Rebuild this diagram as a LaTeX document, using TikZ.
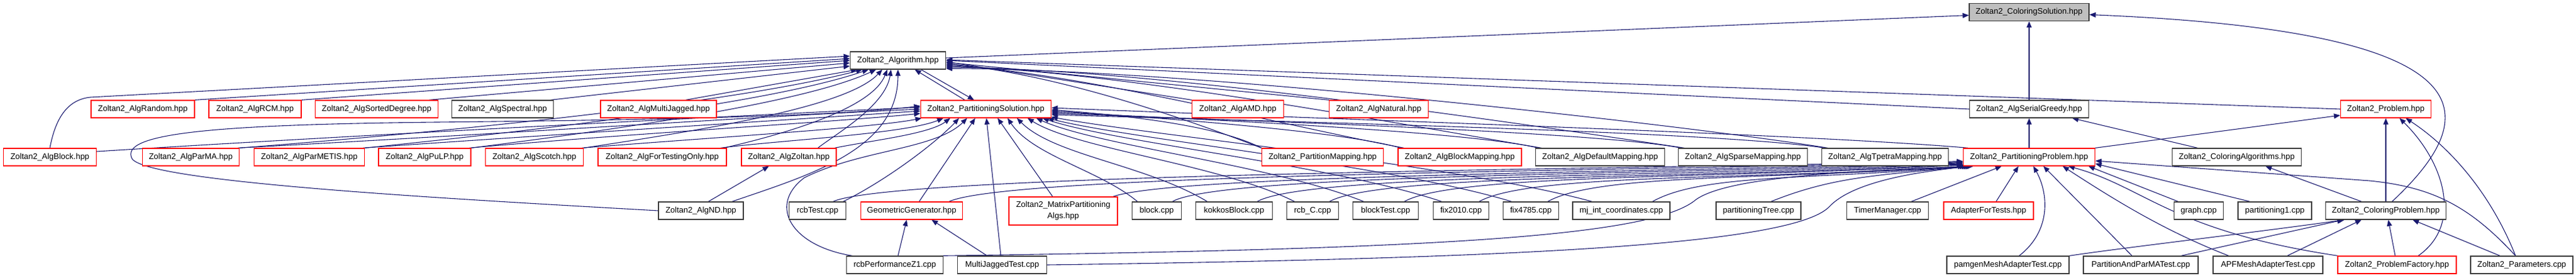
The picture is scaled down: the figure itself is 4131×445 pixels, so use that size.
\documentclass[tikz,border=0pt]{standalone}
\usepackage{fontspec}
\setmainfont{Liberation Sans}
\usetikzlibrary{arrows.meta}
\pgfdeclarelayer{background}
\pgfsetlayers{background,main}
\definecolor{edgeblue}{RGB}{25,25,112}
\definecolor{boxgray}{RGB}{60,60,60}
\definecolor{boxred}{RGB}{255,0,0}
\definecolor{fillgray}{RGB}{191,191,191}
\tikzset{
  nb/.style={draw=boxgray, line width=1.3pt, fill=white, minimum height=28pt, inner sep=0pt, font=\fontsize{13}{15}\selectfont, text=black},
  nr/.style={nb, draw=boxred},
  e/.style={draw=edgeblue, line width=1.1pt, -{Triangle[length=10pt,width=8pt]}},
}
\begin{document}
\begin{tikzpicture}[x=1pt,y=-1pt]
\useasboundingbox (0,0) rectangle (4131,445);
% row 0
\node[nb, fill=fillgray, minimum width=192pt] (cs) at (3254,19.5) {Zoltan2\_ColoringSolution.hpp};
% row 1
\node[nb, minimum width=153pt] (alg) at (1440,97) {Zoltan2\_Algorithm.hpp};
% row 2
\node[nr, minimum width=166pt] (rnd) at (229,175) {Zoltan2\_AlgRandom.hpp};
\node[nr, minimum width=148pt] (rcm) at (409,175) {Zoltan2\_AlgRCM.hpp};
\node[nr, minimum width=197pt] (sdeg) at (604,175) {Zoltan2\_AlgSortedDegree.hpp};
\node[nb, minimum width=163pt] (spec) at (806,175) {Zoltan2\_AlgSpectral.hpp};
\node[nr, minimum width=186pt] (mj) at (1056,175) {Zoltan2\_AlgMultiJagged.hpp};
\node[nr, minimum width=209pt] (ps) at (1581,175) {Zoltan2\_PartitioningSolution.hpp};
\node[nr, minimum width=147pt] (amd) at (1985,175) {Zoltan2\_AlgAMD.hpp};
\node[nr, minimum width=159pt] (nat) at (2211,175) {Zoltan2\_AlgNatural.hpp};
\node[nb, minimum width=191pt] (sg) at (3254,175) {Zoltan2\_AlgSerialGreedy.hpp};
\node[nr, minimum width=145pt] (prob) at (3826,175) {Zoltan2\_Problem.hpp};
% row 3
\node[nr, minimum width=149pt] (blk) at (80,252) {Zoltan2\_AlgBlock.hpp};
\node[nr, minimum width=155pt] (parma) at (306,252) {Zoltan2\_AlgParMA.hpp};
\node[nr, minimum width=177pt] (parmetis) at (496,252) {Zoltan2\_AlgParMETIS.hpp};
\node[nr, minimum width=148pt] (pulp) at (681,252) {Zoltan2\_AlgPuLP.hpp};
\node[nr, minimum width=157pt] (scotch) at (857,252) {Zoltan2\_AlgScotch.hpp};
\node[nr, minimum width=206pt] (fto) at (1062,252) {Zoltan2\_AlgForTestingOnly.hpp};
\node[nr, minimum width=152pt] (zol) at (1265,252) {Zoltan2\_AlgZoltan.hpp};
\node[nr, minimum width=195pt] (pmap) at (2121,252) {Zoltan2\_PartitionMapping.hpp};
\node[nr, minimum width=198pt] (bmap) at (2341,252) {Zoltan2\_AlgBlockMapping.hpp};
\node[nb, minimum width=207pt] (dmap) at (2566,252) {Zoltan2\_AlgDefaultMapping.hpp};
\node[nb, minimum width=207pt] (smap) at (2795,252) {Zoltan2\_AlgSparseMapping.hpp};
\node[nb, minimum width=203pt] (tmap) at (3023,252) {Zoltan2\_AlgTpetraMapping.hpp};
\node[nr, minimum width=211pt] (pp) at (3254,252) {Zoltan2\_PartitioningProblem.hpp};
\node[nb, minimum width=207pt] (calg) at (3587,252) {Zoltan2\_ColoringAlgorithms.hpp};
% row 4
\node[nb, minimum width=136pt] (nd) at (1124,338) {Zoltan2\_AlgND.hpp};
\node[nb, minimum width=91pt] (rcbt) at (1311,338) {rcbTest.cpp};
\node[nr, minimum width=163pt] (geo) at (1462,338) {GeometricGenerator.hpp};
\node[nr, minimum width=174pt, minimum height=45pt, align=center, font=\fontsize{13}{18}\selectfont] (mpa) at (1705,338.5) {Zoltan2\_MatrixPartitioning\\Algs.hpp};
\node[nb, minimum width=79pt] (blockc) at (1855,338) {block.cpp};
\node[nb, minimum width=123pt] (kokkos) at (1979,338) {kokkosBlock.cpp};
\node[nb, minimum width=83pt] (rcbc) at (2105,338) {rcb\_C.cpp};
\node[nb, minimum width=105pt] (blockt) at (2222,338) {blockTest.cpp};
\node[nb, minimum width=89pt] (fix2010) at (2343,338) {fix2010.cpp};
\node[nb, minimum width=89pt] (fix4785) at (2455,338) {fix4785.cpp};
\node[nb, minimum width=156pt] (mjint) at (2600,338) {mj\_int\_coordinates.cpp};
\node[nb, minimum width=136pt] (ptree) at (2820,338) {partitioningTree.cpp};
\node[nb, minimum width=131pt] (timer) at (3027,338) {TimerManager.cpp};
\node[nr, minimum width=144pt] (aft) at (3189,338) {AdapterForTests.hpp};
\node[nb, minimum width=79pt] (graph) at (3526,338) {graph.cpp};
\node[nb, minimum width=118pt] (part1) at (3648,338) {partitioning1.cpp};
\node[nb, minimum width=193pt] (cp) at (3826,338) {Zoltan2\_ColoringProblem.hpp};
% row 5
\node[nb, minimum width=155pt] (rcbperf) at (1435,425) {rcbPerformanceZ1.cpp};
\node[nb, minimum width=143pt] (mjt) at (1607,425) {MultiJaggedTest.cpp};
\node[nb, minimum width=196pt] (pamgen) at (3220,425) {pamgenMeshAdapterTest.cpp};
\node[nb, minimum width=184pt] (papm) at (3433,425) {PartitionAndParMATest.cpp};
\node[nb, minimum width=176pt] (apf) at (3637,425) {APFMeshAdapterTest.cpp};
\node[nr, minimum width=190pt] (pf) at (3844,425) {Zoltan2\_ProblemFactory.hpp};
\node[nb, minimum width=164pt] (params) at (4044,425) {Zoltan2\_Parameters.cpp};

\begin{pgfonlayer}{background}
\fill[white] (0,0) rectangle (4131,445);
% into ColoringSolution
\draw[e] ([yshift=4pt]alg.east) -- ([yshift=-5pt]cs.west);
\draw[e] (sg.north) -- (cs.south);
\draw[e] ([xshift=10pt]cp.north) .. controls (3990,180) and (3990,50) .. ([yshift=-4pt]cs.east);
% into Algorithm, left and bottom
\draw[e] (blk.north) .. controls (88,195) and (105,160) .. (145,156) -- ([yshift=7pt]alg.west);
\draw[e] (rnd.north east) -- ([yshift=3pt]alg.west);
\draw[e] (rcm.north east) -- (alg.west);
\draw[e] ([xshift=-15pt]sdeg.north east) -- ([yshift=-4pt]alg.west);
\draw[e] ([xshift=-5pt]spec.north east) -- ([yshift=-9pt]alg.west);
\draw[e] ([xshift=-50pt]mj.north east) -- ([xshift=12pt]alg.south west);
\draw[e] (parma.north east) .. controls (800,205) and (1200,160) .. ([xshift=20pt]alg.south west);
\draw[e] (parmetis.north east) .. controls (950,200) and (1250,160) .. ([xshift=30pt]alg.south west);
\draw[e] (pulp.north east) .. controls (1050,200) and (1300,160) .. ([xshift=42pt]alg.south west);
\draw[e] (scotch.north east) .. controls (1150,205) and (1360,170) .. ([xshift=52pt]alg.south west);
\draw[e] ([xshift=-5pt]fto.north east) .. controls (1280,210) and (1400,170) .. ([xshift=60pt]alg.south west);
\draw[e] ([xshift=-30pt]zol.north east) .. controls (1340,215) and (1420,170) .. ([xshift=66pt]alg.south west);
\draw[e] ([xshift=50pt]nd.north) .. controls (1300,280) and (1440,240) .. (alg.south);
% Algorithm <-> PartitioningSolution
\draw[e] ([xshift=-34pt]ps.north) -- ([xshift=27pt]alg.south);
\draw[e] ([xshift=37pt]alg.south) -- ([xshift=-19pt]ps.north);
% into Algorithm, right
\draw[e] (amd.north west) -- ([yshift=-2pt]alg.east);
\draw[e] (nat.north west) -- ([yshift=-3pt]alg.east);
\draw[e] (sg.west) -- (alg.east);
\draw[e] (prob.west) -- ([yshift=1pt]alg.east);
\draw[e] (pmap.north west) .. controls (1900,190) and (1700,120) .. ([yshift=-5pt]alg.east);
\draw[e] ([xshift=10pt]bmap.north west) .. controls (2050,200) and (1750,120) .. ([yshift=-7pt]alg.east);
\draw[e] ([xshift=10pt]dmap.north west) .. controls (2250,200) and (1800,115) .. ([yshift=-9pt]alg.east);
\draw[e] ([xshift=10pt]smap.north west) .. controls (2450,200) and (1850,110) .. ([yshift=-11pt]alg.east);
\draw[e] ([xshift=10pt]tmap.north west) .. controls (2700,200) and (1900,110) .. ([yshift=-13pt]alg.east);
% into PartitioningSolution, left
\draw[e] ([yshift=9pt]blk.east) .. controls (600,215) and (1200,185) .. ([yshift=3pt]ps.west);
\draw[e] ([xshift=-3pt]parma.north east) .. controls (800,215) and (1250,185) .. (ps.west);
\draw[e] ([xshift=-3pt]parmetis.north east) .. controls (900,215) and (1300,190) .. ([yshift=-3pt]ps.west);
\draw[e] ([xshift=-3pt]pulp.north east) .. controls (1000,215) and (1350,195) .. ([yshift=-7pt]ps.west);
\draw[e] ([xshift=-3pt]scotch.north east) .. controls (1150,220) and (1400,205) .. ([xshift=2pt]ps.south west);
\draw[e] ([xshift=-10pt]fto.north east) .. controls (1250,225) and (1450,215) .. ([xshift=37pt]ps.south west);
\draw[e] ([xshift=-3pt]zol.north east) .. controls (1400,225) and (1490,215) .. ([xshift=48pt]ps.south west);
\draw[e] (nd.west) .. controls (700,318) and (240,292) .. (212,255) .. controls (190,215) and (330,200) .. (700,196) .. controls (1100,192) and (1350,185) .. ([yshift=5pt]ps.west);
\draw[e] ([xshift=12pt]nd.north) -- ([xshift=-32pt]zol.south);
% into PartitioningSolution, bottom
\draw[e] ([xshift=-5pt]rcbt.north east) .. controls (1420,290) and (1500,230) .. ([xshift=62pt]ps.south west);
\draw[e] ([xshift=10pt]rcbperf.north west) .. controls (1270,395) and (1230,330) .. (1290,285) .. controls (1380,240) and (1500,240) .. ([xshift=75pt]ps.south west);
\draw[e] ([xshift=12pt]geo.north) -- ([xshift=88pt]ps.south west);
\draw[e] ([xshift=-2pt]mjt.north) -- ([xshift=106pt]ps.south west);
\draw[e] ([xshift=-17pt]mpa.north) -- ([xshift=124pt]ps.south west);
\draw[e] ([xshift=-31pt]blockc.north) .. controls +(-60,-50) and +(40,60) .. ([xshift=140pt]ps.south west);
\draw[e] ([xshift=-43pt]kokkos.north) .. controls +(-100,-60) and +(60,60) .. ([xshift=155pt]ps.south west);
\draw[e] ([xshift=-29pt]rcbc.north) .. controls +(-120,-60) and +(80,50) .. ([xshift=172pt]ps.south west);
\draw[e] ([xshift=-35pt]blockt.north) .. controls +(-150,-60) and +(100,45) .. ([xshift=186pt]ps.south west);
\draw[e] ([xshift=-31pt]fix2010.north) .. controls +(-180,-60) and +(120,40) .. ([xshift=196pt]ps.south west);
\draw[e] ([xshift=-31pt]fix4785.north) .. controls +(-200,-60) and +(140,35) .. ([xshift=204pt]ps.south west);
\draw[e] ([xshift=-47pt]mjint.north) .. controls +(-220,-60) and +(160,30) .. ([yshift=2pt]ps.south east);
% into PartitioningSolution, right
\draw[e] (pmap.north west) .. controls (1950,200) and (1800,185) .. ([yshift=-1pt]ps.east);
\draw[e] ([xshift=5pt]bmap.north west) .. controls (2150,210) and (1850,188) .. ([yshift=-3pt]ps.east);
\draw[e] ([xshift=5pt]dmap.north west) .. controls (2350,210) and (1900,190) .. ([yshift=-5pt]ps.east);
\draw[e] ([xshift=5pt]smap.north west) .. controls (2550,210) and (1950,192) .. ([yshift=-7pt]ps.east);
\draw[e] ([xshift=5pt]tmap.north west) .. controls (2750,210) and (2000,194) .. ([yshift=-9pt]ps.east);
\draw[e] ([xshift=8pt]pp.north west) .. controls (2900,215) and (2100,190) .. ([yshift=2pt]ps.east);
% into PartitioningProblem from the left
\draw[e] ([xshift=25pt]rcbt.north) .. controls +(100,-45) and +(-500,12) .. ([yshift=8pt]pp.south west);
\draw[e] ([xshift=60pt]geo.north) .. controls +(100,-45) and +(-500,14) .. ([yshift=7pt]pp.south west);
\draw[e] ([xshift=80pt]mpa.north) .. controls +(100,-35) and +(-500,16) .. ([yshift=6pt]pp.south west);
\draw[e] ([xshift=25pt]blockc.north) .. controls +(80,-45) and +(-450,18) .. ([yshift=5pt]pp.south west);
\draw[e] ([xshift=37pt]kokkos.north) .. controls +(80,-45) and +(-420,20) .. ([yshift=4pt]pp.south west);
\draw[e] ([xshift=27pt]rcbc.north) .. controls +(80,-45) and +(-400,22) .. ([yshift=3pt]pp.south west);
\draw[e] ([xshift=30pt]blockt.north) .. controls +(80,-45) and +(-380,22) .. ([yshift=2pt]pp.south west);
\draw[e] ([xshift=29pt]fix2010.north) .. controls +(80,-45) and +(-350,22) .. ([xshift=2pt]pp.south west);
\draw[e] ([xshift=27pt]fix4785.north) .. controls +(80,-45) and +(-320,22) .. ([xshift=5pt]pp.south west);
\draw[e] ([xshift=50pt]mjint.north) .. controls +(80,-45) and +(-250,22) .. ([xshift=8pt]pp.south west);
\draw[e] ([xshift=20pt]ptree.north) .. controls +(100,-40) and +(-150,15) .. ([xshift=11pt]pp.south west);
\draw[e] (mjt.east) .. controls (2400,415) and (2880,395) .. (2935,330) .. controls (2975,290) and (3080,275) .. ([xshift=14pt]pp.south west);
\draw[e] ([xshift=-5pt]rcbperf.north east) .. controls (2300,400) and (2650,380) .. (2720,320) .. controls (2770,285) and (2950,275) .. ([xshift=17pt]pp.south west);
% into PartitioningProblem from below and right
\draw[e] ([xshift=38pt]timer.north) -- ([xshift=62pt]pp.south west);
\draw[e] ([xshift=12pt]aft.north) -- ([xshift=89pt]pp.south west);
\draw[e] ([xshift=18pt]pamgen.north) .. controls (3290,370) and (3285,310) .. ([xshift=113pt]pp.south west);
\draw[e] ([xshift=-14pt]papm.north) -- ([xshift=129pt]pp.south west);
\draw[e] ([xshift=-63pt]apf.north) .. controls (3470,370) and (3390,320) .. ([xshift=160pt]pp.south west);
\draw[e] ([xshift=-95pt]pf.north) .. controls (3480,370) and (3440,300) .. ([xshift=169pt]pp.south west);
\draw[e] ([xshift=-33pt]graph.north) -- ([xshift=-11pt]pp.south east);
\draw[e] ([xshift=-40pt]part1.north) -- ([yshift=4pt]pp.south east);
\draw[e] ([xshift=-10pt]params.north) .. controls (3960,330) and (3900,300) .. (3800,290) -- ([yshift=-6pt]pp.east);
% into Problem
\draw[e] (pp.north east) -- ([yshift=-10pt]prob.west);
\draw[e] (cp.north) -- (prob.south);
\draw[e] ([xshift=34pt]pf.north) .. controls (3950,360) and (3920,260) .. ([xshift=22pt]prob.south);
\draw[e] ([xshift=-10pt]params.north) .. controls (3990,300) and (3920,230) .. ([xshift=32pt]prob.south);
% into AlgSerialGreedy and ColoringAlgorithms
\draw[e] (pp.north) -- (sg.south);
\draw[e] ([xshift=-63pt]calg.north) -- ([xshift=-27pt]sg.south east);
\draw[e] ([xshift=-39pt]cp.north) -- ([xshift=46pt]calg.south);
% into ColoringProblem
\draw[e] ([xshift=-3pt]pf.north) -- ([xshift=4pt]cp.south);
\draw[e] ([xshift=-35pt]params.north) -- ([xshift=43pt]cp.south);
\draw[e] ([xshift=31pt]apf.north) -- ([xshift=-39pt]cp.south);
\draw[e] ([xshift=-28pt]papm.north east) -- ([xshift=-68pt]cp.south);
\draw[e] (pamgen.north east) .. controls (3400,398) and (3600,375) .. ([xshift=-66pt]cp.south);
% into GeometricGenerator
\draw[e] ([xshift=-24pt]mjt.north) -- ([xshift=32pt]geo.south);
\draw[e] ([xshift=5pt]rcbperf.north) -- ([xshift=-8pt]geo.south);
\end{pgfonlayer}
\end{tikzpicture}
\end{document}
